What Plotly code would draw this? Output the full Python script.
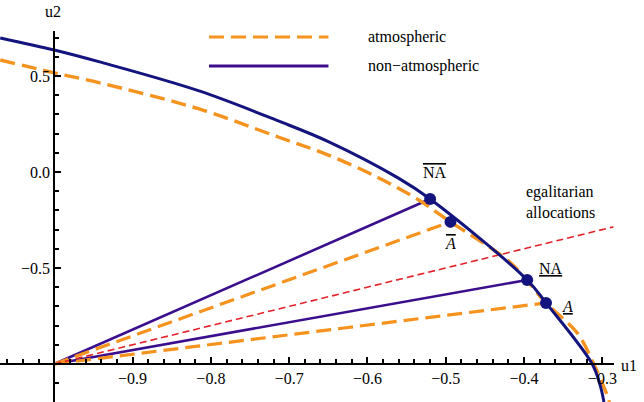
import plotly.graph_objects as go

# ---------------- data ----------------
# non-atmospheric utility frontier
na_u1 = [-1.069, -1.0, -0.942, -0.815, -0.714, -0.650, -0.561, -0.520, -0.396, -0.372, -0.313, -0.303, -0.298]
na_u2 = [0.698, 0.635, 0.573, 0.422, 0.266, 0.158, -0.031, -0.141, -0.5625, -0.682, -1.0, -1.109, -1.198]
# atmospheric utility frontier
at_u1 = [-1.069, -1.0, -0.942, -0.815, -0.714, -0.650, -0.586, -0.535, -0.494, -0.417, -0.372, -0.332, -0.311, -0.294, -0.291]
at_u2 = [0.583, 0.516, 0.464, 0.328, 0.182, 0.088, -0.030, -0.145, -0.260, -0.474, -0.682, -0.839, -1.0, -1.161, -1.198]
# disagreement point (origin of rays)
origin = (-1.0, -1.0)
# bargaining points
na_pts_u1 = [-0.520, -0.396]   # NA-bar, NA
na_pts_u2 = [-0.141, -0.5625]
at_pts_u1 = [-0.494, -0.372]   # A-bar, A
at_pts_u2 = [-0.260, -0.682]
# egalitarian allocations line u2 = u1
egal_u1 = [-1.0, -0.286]
egal_u2 = [-1.0, -0.286]
# ticks
x_ticks = [-0.9, -0.8, -0.7, -0.6, -0.5, -0.4, -0.3]
y_ticks = [-0.5, 0.0, 0.5]

# ---------------- styling ----------------
W, H = 644, 402
ORANGE = "#F5931E"
NAVY = "#14147F"
INDIGO = "#3A0E8C"
RED = "#E3232B"
FONT = "Liberation Serif, Times New Roman, Times, DejaVu Serif, serif"
FS = 16

x_range = [-1.0693, -0.285]
y_range = [-1.198, 0.734]
x_dom = [0, 617 / W]
y_dom = [0, 1 - 31 / H]

def xpaper(px):
    return px / W

def ypaper(py):
    return 1 - py / H

fig = go.Figure()

# rays (non-atmospheric)
for u1, u2 in zip(na_pts_u1, na_pts_u2):
    fig.add_trace(go.Scatter(x=[origin[0], u1], y=[origin[1], u2], mode="lines",
                             line=dict(color=INDIGO, width=2.6), showlegend=False,
                             hoverinfo="skip"))
# rays (atmospheric)
for u1, u2 in zip(at_pts_u1, at_pts_u2):
    fig.add_trace(go.Scatter(x=[origin[0], u1], y=[origin[1], u2], mode="lines",
                             line=dict(color=ORANGE, width=3.2, dash="15px,7px"),
                             showlegend=False, hoverinfo="skip"))
# egalitarian line
fig.add_trace(go.Scatter(x=egal_u1, y=egal_u2, mode="lines",
                         line=dict(color=RED, width=1.6, dash="7px,4px"),
                         showlegend=False, hoverinfo="skip"))
# frontiers
fig.add_trace(go.Scatter(x=at_u1, y=at_u2, mode="lines",
                         line=dict(color=ORANGE, width=3.4, dash="15px,7px", shape="spline", smoothing=1.0),
                         showlegend=False, hoverinfo="skip"))
fig.add_trace(go.Scatter(x=na_u1, y=na_u2, mode="lines",
                         line=dict(color=NAVY, width=3.0, shape="spline", smoothing=1.0),
                         showlegend=False, hoverinfo="skip"))
# points
fig.add_trace(go.Scatter(x=na_pts_u1 + at_pts_u1, y=na_pts_u2 + at_pts_u2, mode="markers",
                         marker=dict(color=NAVY, size=12, line=dict(width=0)),
                         showlegend=False, hoverinfo="skip"))

# axis positions (where the axes cross at the origin)
xaxis_pos = y_dom[0] + (origin[1] - y_range[0]) / (y_range[1] - y_range[0]) * (y_dom[1] - y_dom[0])
yaxis_pos = x_dom[0] + (origin[0] - x_range[0]) / (x_range[1] - x_range[0]) * (x_dom[1] - x_dom[0])

fig.update_layout(
    width=W, height=H, autosize=False,
    margin=dict(l=0, r=0, t=0, b=0),
    paper_bgcolor="white", plot_bgcolor="white",
    font=dict(family=FONT, size=FS, color="black"),
    xaxis=dict(range=x_range, domain=x_dom, anchor="free", position=xaxis_pos,
               showgrid=False, zeroline=False, showline=True, linecolor="black", linewidth=2.2,
               tickmode="array", tickvals=x_ticks, tickformat=".1f",
               ticks="inside", ticklen=6, tickwidth=2, tickcolor="black",
               tickfont=dict(family=FONT, size=FS, color="black"),
               minor=dict(tickmode="linear", tick0=-1.0, dtick=0.02, ticks="inside",
                          ticklen=3.5, tickwidth=1.6, tickcolor="black", showgrid=False)),
    yaxis=dict(range=y_range, domain=y_dom, anchor="free", position=yaxis_pos,
               showgrid=False, zeroline=False, showline=True, linecolor="black", linewidth=2.2,
               tickmode="array", tickvals=y_ticks, tickformat=".1f",
               ticks="inside", ticklen=6, tickwidth=2, tickcolor="black",
               tickfont=dict(family=FONT, size=FS, color="black"),
               minor=dict(tickmode="linear", tick0=-1.0, dtick=0.1, ticks="inside",
                          ticklen=3.5, tickwidth=1.6, tickcolor="black", showgrid=False)),
)

# axis labels
fig.add_annotation(text="u2", x=xpaper(53), y=ypaper(12), xref="paper", yref="paper",
                   showarrow=False, xanchor="center", yanchor="middle",
                   font=dict(family=FONT, size=FS))
fig.add_annotation(text="u1", x=xpaper(642), y=ypaper(365), xref="paper", yref="paper",
                   showarrow=False, xanchor="right", yanchor="middle",
                   font=dict(family=FONT, size=FS))

# legend (manual, Mathematica style)
fig.add_shape(type="line", xref="paper", yref="paper", x0=xpaper(210), x1=xpaper(330),
              y0=ypaper(37), y1=ypaper(37), line=dict(color=ORANGE, width=3.2, dash="15px,7px"))
fig.add_shape(type="line", xref="paper", yref="paper", x0=xpaper(210), x1=xpaper(330),
              y0=ypaper(66), y1=ypaper(66), line=dict(color=INDIGO, width=3.0))
fig.add_annotation(text="atmospheric", x=xpaper(368), y=ypaper(37), xref="paper", yref="paper",
                   showarrow=False, xanchor="left", yanchor="middle", font=dict(family=FONT, size=FS))
fig.add_annotation(text="non\u2212atmospheric", x=xpaper(368), y=ypaper(66), xref="paper", yref="paper",
                   showarrow=False, xanchor="left", yanchor="middle", font=dict(family=FONT, size=FS))

# point labels
labels = [
    ('<span style="text-decoration:overline">NA</span>', na_pts_u1[0] + 0.006, na_pts_u2[0] + 0.14),
    ('<span style="text-decoration:underline">NA</span>', na_pts_u1[1] + 0.03, na_pts_u2[1] + 0.06),
    ('<span style="text-decoration:overline;font-style:italic">A</span>', at_pts_u1[0] + 0.0, at_pts_u2[0] - 0.11),
    ('<span style="text-decoration:underline;font-style:italic">A</span>', at_pts_u1[1] + 0.028, at_pts_u2[1] - 0.02),
]
for txt, x, y in labels:
    fig.add_annotation(text=txt, x=x, y=y, xref="x", yref="y", showarrow=False,
                       xanchor="center", yanchor="middle", font=dict(family=FONT, size=FS))

fig.add_annotation(text="egalitarian<br>allocations", x=-0.40, y=-0.155, xref="x", yref="y",
                   showarrow=False, xanchor="left", yanchor="middle", align="left",
                   font=dict(family=FONT, size=FS))

fig.write_html("out.html")
